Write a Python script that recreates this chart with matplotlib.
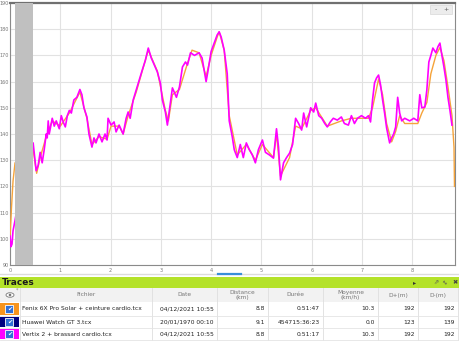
#! /usr/bin/env python
import matplotlib
matplotlib.use('Agg')
import matplotlib.pyplot as plt
from matplotlib.patches import Rectangle, Ellipse, Circle

# heart rate traces (km, bpm)
vertix_km = [0.00, 0.02, 0.04, 0.06, 0.08, 0.10, 0.20, 0.30, 0.40, 0.46, 0.52, 0.56, 0.60, 0.64, 0.68,
             0.72, 0.74, 0.76, 0.78, 0.84, 0.88, 0.92, 0.98, 1.02, 1.06, 1.10, 1.14, 1.18, 1.22, 1.27,
             1.33, 1.39, 1.43, 1.47, 1.53, 1.57, 1.63, 1.67, 1.71, 1.77, 1.83, 1.89, 1.93, 1.95, 2.01,
             2.07, 2.11, 2.17, 2.25, 2.31, 2.35, 2.39, 2.45, 2.51, 2.57, 2.63, 2.69, 2.75, 2.81, 2.87,
             2.93, 2.99, 3.03, 3.09, 3.13, 3.17, 3.23, 3.31, 3.37, 3.43, 3.49, 3.53, 3.59, 3.67, 3.76,
             3.82, 3.86, 3.90, 3.94, 4.00, 4.06, 4.12, 4.16, 4.20, 4.26, 4.32, 4.36, 4.42, 4.46, 4.52,
             4.58, 4.64, 4.70, 4.76, 4.82, 4.88, 4.94, 5.02, 5.08, 5.16, 5.24, 5.30, 5.34, 5.38, 5.44,
             5.50, 5.56, 5.62, 5.68, 5.74, 5.80, 5.84, 5.90, 5.98, 6.04, 6.08, 6.14, 6.20, 6.26, 6.31,
             6.37, 6.43, 6.51, 6.59, 6.65, 6.73, 6.79, 6.85, 6.91, 6.99, 7.07, 7.13, 7.17, 7.21, 7.25,
             7.29, 7.33, 7.37, 7.41, 7.45, 7.49, 7.55, 7.59, 7.63, 7.67, 7.71, 7.75, 7.79, 7.85, 7.95,
             8.03, 8.11, 8.15, 8.19, 8.25, 8.29, 8.33, 8.37, 8.41, 8.47, 8.51, 8.55, 8.59, 8.63, 8.67,
             8.71, 8.75, 8.79]
vertix_bpm = [101, 97, 98, 103, 105, 107, 118, 128, 134, 136.6, 126, 128, 133, 129, 134,
              140, 138.5, 145, 140, 146, 143, 145, 142, 147, 144.5, 142.7, 147, 149, 148, 153,
              154, 157, 155, 150, 146.5, 140, 135, 138.5, 136.6, 140, 137, 140, 137.7, 146, 143.4,
              144.6, 140.8, 143.4, 140, 146, 148.4, 146, 153, 156.8, 160.6, 164.4, 168, 172.8, 169, 166.3,
              163.7, 159.5, 153, 148.4, 143.4, 149, 157.6, 154, 158, 165.6, 167.5, 166.3, 171, 170, 171,
              169, 164.4, 160, 164.4, 171.5, 174.7, 177.8, 179, 177, 172, 163, 145, 139, 134, 131,
              136, 131, 136.6, 134, 132, 129, 134, 137.7, 133, 132, 130.8, 142, 135, 122.5, 129,
              131, 132.7, 136, 146, 144, 141.5, 148, 142.7, 150, 148.4, 151.8, 147, 146, 144, 142.7,
              144.6, 146, 145.3, 146.5, 144, 143.4, 147, 144, 146, 147, 146, 147, 144.6, 153, 159.5,
              161.4, 162.5, 158.7, 153, 148, 142.3, 136.6, 138.5, 140, 142.7, 154, 148, 145, 146, 145,
              146, 145, 155, 150, 150.3, 156.8, 167.5, 170, 172.8, 171, 173.3, 174.7, 170, 165.6, 160.6,
              154, 149, 143.4]

fenix_km = [0.00, 0.03, 0.06, 0.10, 0.46, 0.53, 0.60, 0.72, 0.84, 1.00, 1.18, 1.39, 1.53, 1.63, 1.77,
            1.93, 2.01, 2.17, 2.25, 2.35, 2.51, 2.75, 2.93, 3.09, 3.15, 3.23, 3.37, 3.53, 3.62, 3.76,
            3.90, 4.00, 4.12, 4.16, 4.26, 4.36, 4.52, 4.70, 4.88, 5.02, 5.24, 5.30, 5.38, 5.56, 5.68,
            5.80, 5.98, 6.08, 6.31, 6.59, 6.79, 7.13, 7.21, 7.33, 7.41, 7.49, 7.59, 7.67, 7.75, 7.85,
            8.11, 8.19, 8.29, 8.37, 8.47, 8.55, 8.63, 8.71, 8.79, 8.83, 8.84]
fenix_bpm = [100, 112, 122, 129, 134, 125, 131, 139, 145, 143, 148, 156, 146, 136, 139,
             138, 143, 143, 140, 147, 156, 172, 164, 149, 145, 155, 157, 167, 172, 171,
             162, 170, 177, 179, 172, 147, 132, 136, 130, 136, 131, 140, 124, 131, 143,
             142, 149, 150, 143, 145, 146, 146, 150, 161, 155, 144, 137, 141, 147, 144,
             144, 148, 152, 163, 170, 173, 168, 158, 147, 135, 120]

# table content
fichiers = ['Fenix 6X Pro Solar + ceinture cardio.tcx', 'Huawei Watch GT 3.tcx',
            'Vertix 2 + brassard cardio.tcx']
dates = ['04/12/2021 10:55', '20/01/1970 00:10', '04/12/2021 10:55']
distances = ['8.8', '9.1', '8.8']
durees = ['0:51:47', '454715:36:23', '0:51:17']
moyennes = ['10.3', '0.0', '10.3']
dplus = ['192', '123', '192']
dminus = ['192', '139', '192']
trace_colors = ['#f7941d', '#000080', '#ff00ff']

W, H = 460, 342
fig = plt.figure(figsize=(W / 100, H / 100), dpi=100)
fig.patch.set_facecolor('white')

# --- chart ---
ax = fig.add_axes([10 / W, 1 - 265 / H, 445 / W, 262 / H])
ax.plot(fenix_km, fenix_bpm, color='#f5a33a', lw=1.0, zorder=3)
ax.plot(vertix_km, vertix_bpm, color='#ff00ff', lw=1.2, zorder=4)
ax.axvspan(0.10, 0.46, color='#c0c0c0', zorder=5, lw=0)
ax.set_xlim(0, 8.85)
ax.set_ylim(90, 190)
ax.set_xticks(range(0, 9))
ax.set_yticks(range(90, 191, 10))
ax.grid(True, color='#e2e2e2', lw=0.8, zorder=0)
ax.tick_params(length=0, labelsize=3.5, colors='#777777')
ax.tick_params(axis='y', pad=0.8)
ax.tick_params(axis='x', pad=2)
for s in ax.spines.values():
    s.set_color('#8a8a8a')
    s.set_linewidth(0.8)
ax.spines['top'].set_linewidth(1.6)
ax.spines['top'].set_color('#707070')
ax.set_axisbelow(True)

# --- overlay in pixel coordinates for the widgets and table ---
ov = fig.add_axes([0, 0, 1, 1])
ov.set_xlim(0, W)
ov.set_ylim(H, 0)
ov.axis('off')
ov.patch.set_alpha(0)

# zoom buttons
ov.add_patch(Rectangle((430, 5), 22, 9, fc='#ececec', ec='#d8d8d8', lw=0.5))
ov.text(436, 9.5, '-', fontsize=4.5, color='#555555', ha='center', va='center')
ov.text(446, 9.5, '+', fontsize=4.5, color='#555555', ha='center', va='center')

# scroll bar under the chart
ov.plot([0, W], [274, 274], color='#dcdcdc', lw=1)
ov.plot([218, 241], [274, 274], color='#3a8fd8', lw=1.6)

# green title bar
ov.add_patch(Rectangle((0, 277), W, 11, fc='#b4e22a', ec='none'))
ov.text(2, 282.5, 'Traces', fontsize=6.5, fontweight='bold', color='#1a1a1a', va='center')
ov.text(415, 282.5, '\u25b8', fontsize=4.5, color='#333333', va='center', ha='center')
ov.text(436, 282.5, '\u21d7', fontsize=4.5, color='#555555', va='center', ha='center')
ov.text(445, 282.5, '\u2195', fontsize=4.5, color='#555555', va='center', ha='center', rotation=45)
ov.text(455, 282.5, '\u2716', fontsize=4.5, color='#444444', va='center', ha='center')

# column header
ov.add_patch(Rectangle((0, 288), W, 14, fc='#f2f2f2', ec='none'))
seps = [20, 152, 217, 268, 323, 378, 418, 458]
for x in seps:
    ov.plot([x, x], [288, 340], color='#dedede', lw=0.6)
# eye icon
ov.add_patch(Ellipse((10, 295), 8, 4.5, fc='white', ec='#777777', lw=0.6))
ov.add_patch(Circle((10, 295), 1.3, fc='#777777', ec='none'))
ov.text(17, 290.5, '*', fontsize=3.5, color='#888888', ha='center', va='center')
headers = ['Fichier', 'Date', 'Distance\n(km)', 'Durée', 'Moyenne\n(km/h)', 'D+(m)', 'D-(m)']
for i, h in enumerate(headers):
    xc = (seps[i] + seps[i + 1]) / 2
    ov.text(xc, 295, h, fontsize=4.2, color='#777777', ha='center', va='center', linespacing=0.95)

# rows
row_top = [302, 316, 328]
row_h = [14, 12, 12]
for r in range(3):
    y0, hh = row_top[r], row_h[r]
    yc = y0 + hh / 2
    ov.plot([0, W], [y0 + hh, y0 + hh], color='#e4e4e4', lw=0.6)
    ov.add_patch(Rectangle((0, y0 + 1), 19, hh - 2, fc=trace_colors[r], ec='none'))
    ov.add_patch(Rectangle((5.5, yc - 4), 8, 8, fc='#2f6fd6', ec='white', lw=0.6))
    ov.text(9.5, yc, '\u2714', fontsize=4.5, color='white', ha='center', va='center')
    ov.text(22, yc, fichiers[r], fontsize=4.3, color='#222222', va='center')
    vals = [dates[r], distances[r], durees[r], moyennes[r], dplus[r], dminus[r]]
    for j, v in enumerate(vals):
        ov.text(seps[j + 2] - 3, yc, v, fontsize=4.3, color='#222222', ha='right', va='center')

fig.savefig('out.png', dpi=100)
